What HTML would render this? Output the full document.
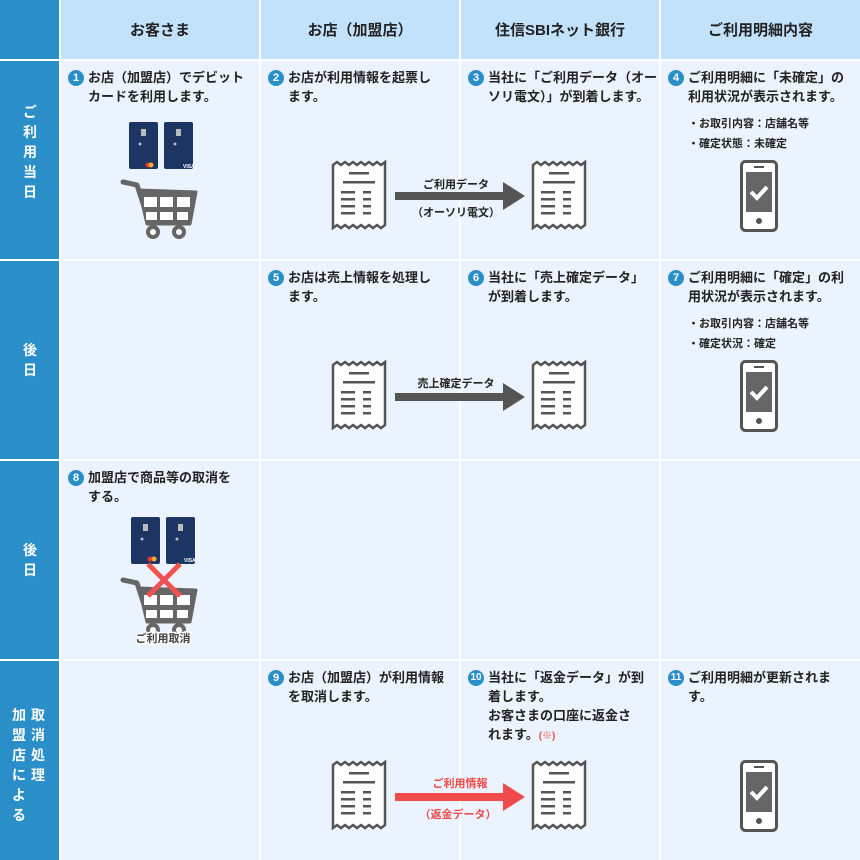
<!DOCTYPE html>
<html><head><meta charset="utf-8"><style>
body{margin:0;width:860px;height:860px;background:#fff;font-family:"Liberation Sans","Noto Sans CJK JP",sans-serif;position:relative;overflow:hidden}
.c{position:absolute;background:#ebf4fe}
.h{position:absolute;background:#c2e2fc;font-weight:bold;font-size:15px;color:#222;display:flex;align-items:center;justify-content:center}
.l{position:absolute;background:#2a8fc8;color:#fff;font-weight:bold;font-size:14px}
.t{position:absolute;font-size:13px;font-weight:bold;color:#222;line-height:19px}
.n{position:absolute;width:16px;height:16px;border-radius:50%;background:#2a8fc8;color:#fff;font-size:11px;font-weight:bold;text-align:center;line-height:16px}
.s{position:absolute;font-size:11px;font-weight:bold;color:#222}
.v{position:absolute;line-height:20px;text-align:center;width:16px}
svg{position:absolute;left:0;top:0}
</style></head><body>
<div class="l" style="left:0;top:0;width:59px;height:59px"></div>
<div class="h" style="left:61px;top:0;width:198px;height:59px">お客さま</div>
<div class="h" style="left:261px;top:0;width:198px;height:59px">お店（加盟店）</div>
<div class="h" style="left:461px;top:0;width:198px;height:59px">住信SBIネット銀行</div>
<div class="h" style="left:661px;top:0;width:199px;height:59px">ご利用明細内容</div>

<div class="l" style="left:0;top:61px;width:59px;height:198px"></div>
<div class="l" style="left:0;top:261px;width:59px;height:198px"></div>
<div class="l" style="left:0;top:461px;width:59px;height:198px"></div>
<div class="l" style="left:0;top:661px;width:59px;height:199px"></div>
<div class="l v" style="left:22px;top:102px;background:none">ご<br>利<br>用<br>当<br>日</div>
<div class="l v" style="left:22px;top:340px;background:none">後<br>日</div>
<div class="l v" style="left:22px;top:540px;background:none">後<br>日</div>
<div class="l v" style="left:30px;top:705px;background:none">取<br>消<br>処<br>理</div>
<div class="l v" style="left:11px;top:705px;background:none">加<br>盟<br>店<br>に<br>よ<br>る</div>

<div class="c" style="left:61px;top:61px;width:198px;height:198px"></div>
<div class="c" style="left:261px;top:61px;width:198px;height:198px"></div>
<div class="c" style="left:461px;top:61px;width:198px;height:198px"></div>
<div class="c" style="left:661px;top:61px;width:199px;height:198px"></div>
<div class="c" style="left:61px;top:261px;width:198px;height:198px"></div>
<div class="c" style="left:261px;top:261px;width:198px;height:198px"></div>
<div class="c" style="left:461px;top:261px;width:198px;height:198px"></div>
<div class="c" style="left:661px;top:261px;width:199px;height:198px"></div>
<div class="c" style="left:61px;top:461px;width:198px;height:198px"></div>
<div class="c" style="left:261px;top:461px;width:198px;height:198px"></div>
<div class="c" style="left:461px;top:461px;width:198px;height:198px"></div>
<div class="c" style="left:661px;top:461px;width:199px;height:198px"></div>
<div class="c" style="left:61px;top:661px;width:198px;height:199px"></div>
<div class="c" style="left:261px;top:661px;width:198px;height:199px"></div>
<div class="c" style="left:461px;top:661px;width:198px;height:199px"></div>
<div class="c" style="left:661px;top:661px;width:199px;height:199px"></div>

<div class="n" style="left:68px;top:70px">1</div><div class="t" style="left:88px;top:68px;width:170px">お店（加盟店）でデビット<br>カードを利用します。</div>
<div class="n" style="left:268px;top:70px">2</div><div class="t" style="left:288px;top:68px;width:170px">お店が利用情報を起票し<br>ます。</div>
<div class="n" style="left:468px;top:70px">3</div><div class="t" style="left:488px;top:68px;width:170px">当社に「ご利用データ（オー<br>ソリ電文）」が到着します。</div>
<div class="n" style="left:668px;top:70px">4</div><div class="t" style="left:688px;top:68px;width:172px">ご利用明細に「未確定」の<br>利用状況が表示されます。</div>
<div class="s" style="left:688px;top:115px">・お取引内容：店舗名等</div>
<div class="s" style="left:688px;top:135px">・確定状態：未確定</div>

<div class="n" style="left:268px;top:270px">5</div><div class="t" style="left:288px;top:268px">お店は売上情報を処理し<br>ます。</div>
<div class="n" style="left:468px;top:270px">6</div><div class="t" style="left:488px;top:268px">当社に「売上確定データ」<br>が到着します。</div>
<div class="n" style="left:668px;top:270px">7</div><div class="t" style="left:688px;top:268px;width:172px">ご利用明細に「確定」の利<br>用状況が表示されます。</div>
<div class="s" style="left:688px;top:315px">・お取引内容：店舗名等</div>
<div class="s" style="left:688px;top:335px">・確定状況：確定</div>

<div class="n" style="left:68px;top:470px">8</div><div class="t" style="left:88px;top:468px">加盟店で商品等の取消を<br>する。</div>

<div class="n" style="left:268px;top:670px">9</div><div class="t" style="left:288px;top:668px">お店（加盟店）が利用情報<br>を取消します。</div>
<div class="n" style="left:468px;top:670px;font-size:10px">10</div><div class="t" style="left:488px;top:668px;width:170px">当社に「返金データ」が到<br>着します。<br>お客さまの口座に返金さ<br>れます。<span style="color:#f04a4a;font-size:10px">(※)</span></div>
<div class="n" style="left:668px;top:670px;font-size:10px">11</div><div class="t" style="left:688px;top:668px">ご利用明細が更新されま<br>す。</div>

<svg width="860" height="860">
<defs>
<g id="rc"><path d="M0,4 l4,-3 4,3 4,-3 4,3 4,-3 4,3 4,-3 4,3 4,-3 4,3 4,-3 4,3 4,-3 V64 l-4,3 -4,-3 -4,3 -4,-3 -4,3 -4,-3 -4,3 -4,-3 -4,3 -4,-3 -4,3 -4,-3 -4,3 Z" fill="#fff" stroke="#555" stroke-width="2.5"/>
<g fill="#555"><rect x="16" y="11" width="20" height="2.5"/><rect x="10" y="20" width="32" height="2.5"/><rect x="8" y="30" width="14" height="2.5"/><rect x="30" y="30" width="8" height="2.5"/><rect x="8" y="37" width="14" height="2.5"/><rect x="30" y="37" width="8" height="2.5"/><rect x="8" y="44" width="14" height="2.5"/><rect x="30" y="44" width="8" height="2.5"/><rect x="8" y="51" width="14" height="2.5"/><rect x="30" y="51" width="8" height="2.5"/></g></g>
<g id="ph"><rect x="1.5" y="1.5" width="35" height="69" rx="4" fill="#fff" stroke="#555" stroke-width="3"/><rect x="6" y="12" width="26" height="40" fill="#666"/><rect x="14" y="6" width="10" height="2" fill="#555"/><circle cx="19" cy="61" r="3" fill="#555"/><path d="M11,32 l6,6 10,-11" fill="none" stroke="#fff" stroke-width="4"/></g>
<g id="ct">
<path d="M13,12 L27,15 L39,52" fill="none" stroke="#666" stroke-width="5" stroke-linecap="round" stroke-linejoin="round"/>
<path d="M29,20 L86,22 L80,54 L37,54 Z" fill="#666" stroke="#666" stroke-width="3" stroke-linejoin="round"/>
<g fill="#fff"><rect x="34" y="27" width="13" height="10"/><rect x="50" y="27" width="13" height="10"/><rect x="67" y="27" width="13" height="10"/><rect x="36" y="42" width="11" height="8"/><rect x="50" y="42" width="13" height="8"/><rect x="67" y="42" width="11" height="8"/></g>
<circle cx="43" cy="62" r="5" fill="#fff" stroke="#666" stroke-width="4"/><circle cx="69" cy="62" r="5" fill="#fff" stroke="#666" stroke-width="4"/>
</g>
<g id="cd"><rect width="29" height="47" rx="2" fill="#1c3563"/><rect x="12" y="7" width="5" height="7" fill="#bbb"/><circle cx="11" cy="22" r="1.5" fill="#bbb"/></g>
</defs>
<use href="#cd" x="129" y="122"/><use href="#cd" x="164" y="122"/><circle cx="148" cy="165" r="2.5" fill="#e33"/><circle cx="151" cy="165" r="2.5" fill="#fa3"/><text x="183" y="168" font-size="5" fill="#fff" font-weight="bold">VISA</text>
<use href="#ct" x="110" y="170"/>
<use href="#rc" x="333" y="161"/><use href="#rc" x="533" y="161"/>
<path d="M395,192 h108 v-10 l22,14 -22,14 v-10 h-108z" fill="#555"/>
<text x="456" y="188" font-size="11" font-weight="bold" text-anchor="middle" fill="#222">ご利用データ</text>
<text x="456" y="216" font-size="11" font-weight="bold" text-anchor="middle" fill="#222">（オーソリ電文）</text>
<use href="#ph" x="740" y="160"/>

<use href="#rc" x="333" y="361"/><use href="#rc" x="533" y="361"/>
<path d="M395,393 h108 v-10 l22,14 -22,14 v-10 h-108z" fill="#555"/>
<text x="456" y="387" font-size="11" font-weight="bold" text-anchor="middle" fill="#222">売上確定データ</text>
<use href="#ph" x="740" y="360"/>

<use href="#cd" x="131" y="517"/><use href="#cd" x="166" y="517"/><circle cx="150" cy="559" r="2.5" fill="#e33"/><circle cx="154" cy="559" r="2.5" fill="#fa3"/><text x="184" y="562" font-size="5" fill="#fff" font-weight="bold">VISA</text>
<use href="#ct" x="110" y="568"/>
<path d="M148,564 l32,32 M180,564 l-32,32" stroke="#f05252" stroke-width="5"/>
<text x="163" y="642" font-size="11" font-weight="bold" text-anchor="middle" fill="#444" stroke="#fff" stroke-width="3" paint-order="stroke">ご利用取消</text>

<use href="#rc" x="333" y="761"/><use href="#rc" x="533" y="761"/>
<path d="M395,793 h108 v-10 l22,14 -22,14 v-10 h-108z" fill="#f04a4a"/>
<text x="460" y="787" font-size="11" font-weight="bold" text-anchor="middle" fill="#f04a4a">ご利用情報</text>
<text x="458" y="818" font-size="11" font-weight="bold" text-anchor="middle" fill="#f04a4a">（返金データ）</text>
<use href="#ph" x="740" y="760"/>
</svg>
</body></html>
